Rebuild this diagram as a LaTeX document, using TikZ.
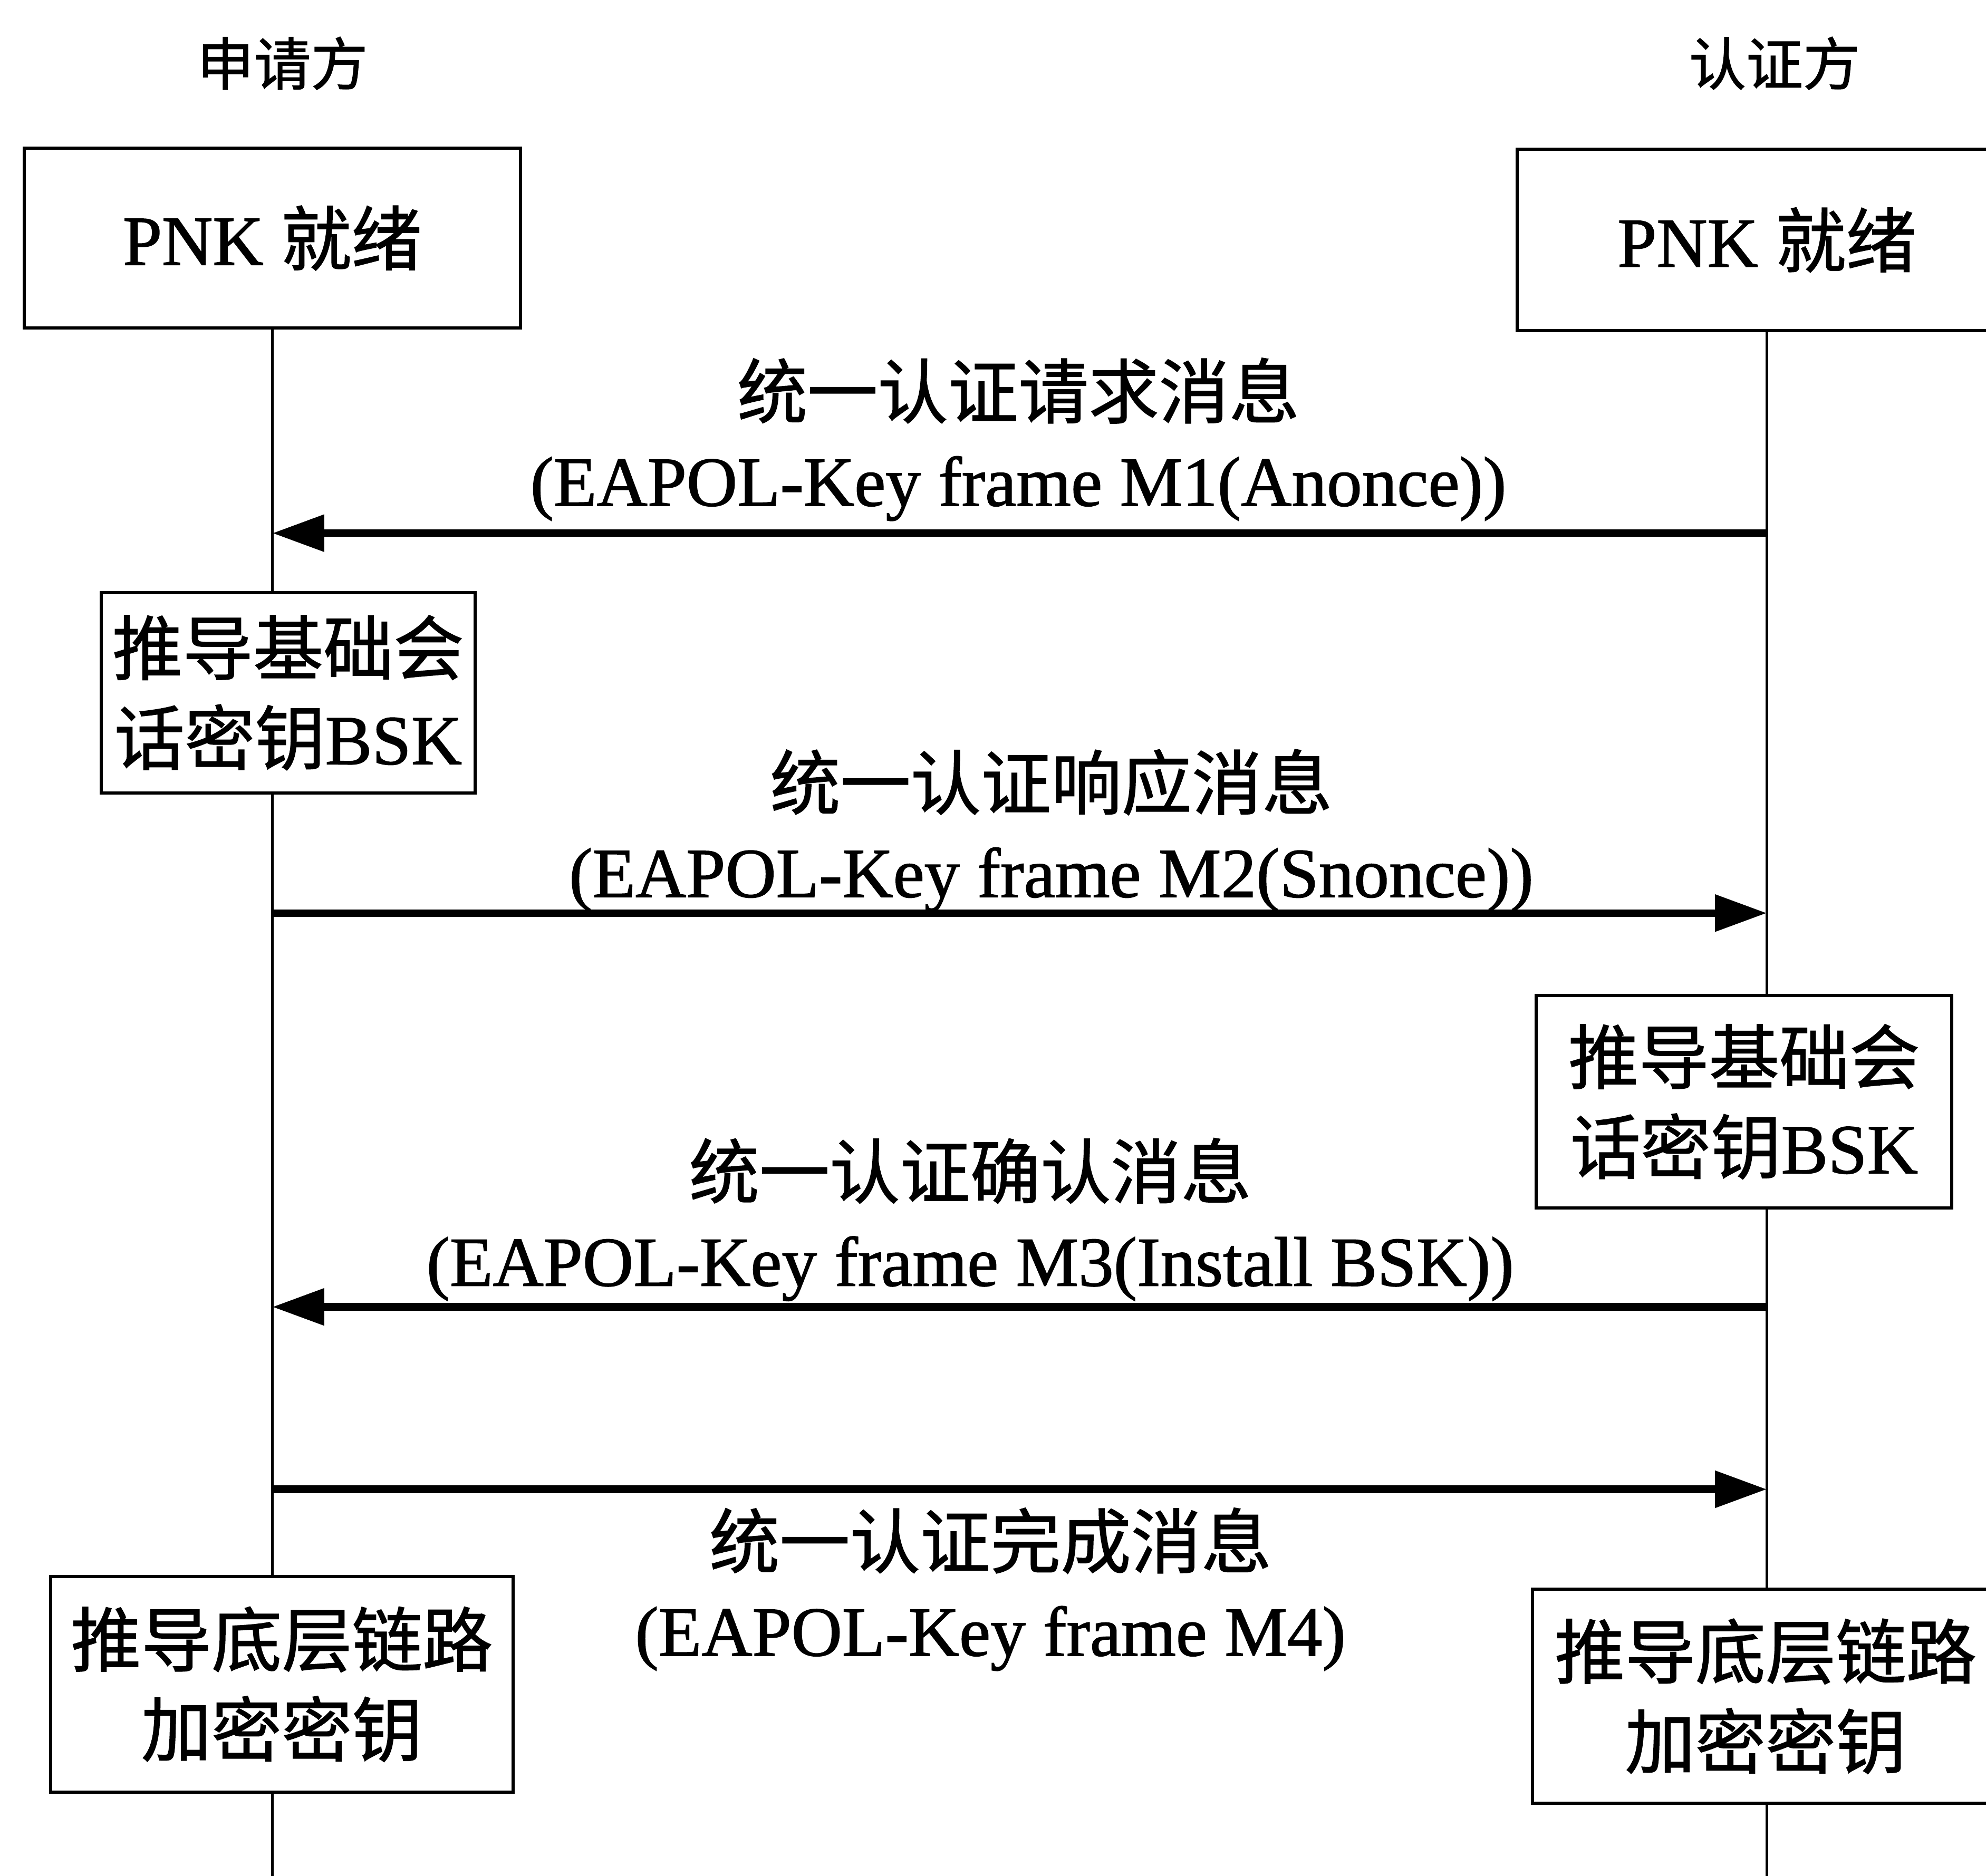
\documentclass[tikz,border=0pt]{standalone}
\usepackage{fontspec}
\setmainfont{Liberation Serif}[FakeBold=1.2]
\newfontfamily\cjk{Noto Sans CJK SC}[FakeBold=1.2]
\usetikzlibrary{arrows.meta}
\begin{document}
\begin{tikzpicture}[x=1pt,y=-1pt,
  box/.style={draw, line width=2.5pt, fill=white, inner sep=0pt, align=center, font=\fontsize{55.5}{71}\selectfont},
  lbl/.style={inner sep=0pt, align=center, font=\fontsize{55.5}{69.5}\selectfont},
  head/.style={inner sep=0pt, font=\fontsize{45}{50}\selectfont\cjk},
  life/.style={line width=2pt},
  msg/.style={line width=6pt, -{Triangle[length=41pt,width=28pt]}}]
\useasboundingbox (0,0) rectangle (1568,1481);
% headers
\node[head] (hA) at (223,50) {申请方};
\node[head] (hB) at (1401,50) {认证方};
% top boxes
\node[box, minimum width=392pt, minimum height=142pt] (A0) at (215,188) {PNK {\cjk 就绪}};
\node[box, minimum width=394pt, minimum height=143pt] (B0) at (1395,189.5) {PNK {\cjk 就绪}};
% lifelines
\coordinate (Aend) at (215,1495);
\coordinate (Bend) at (1395,1495);
\draw[life] (A0.south) -- (Aend);
\draw[life] (B0.south) -- (Bend);
% processing boxes
\node[box, minimum width=295pt, minimum height=158pt] (A1) at (227.5,547) {{\cjk 推导基础会}\\{\cjk 话密钥}BSK};
\node[box, minimum width=328pt, minimum height=168pt] (B1) at (1377,870) {{\cjk 推导基础会}\\{\cjk 话密钥}BSK};
\node[box, minimum width=365pt, minimum height=170pt] (A2) at (222.5,1330) {{\cjk 推导底层链路}\\{\cjk 加密密钥}};
\node[box, minimum width=368pt, minimum height=169pt] (B2) at (1394,1339.5) {{\cjk 推导底层链路}\\{\cjk 加密密钥}};
% message anchor points on lifelines
\coordinate (m1R) at (1395,421);  \coordinate (m1L) at (215,421);
\coordinate (m2L) at (215,721);   \coordinate (m2R) at (1395,721);
\coordinate (m3R) at (1395,1032); \coordinate (m3L) at (215,1032);
\coordinate (m4L) at (215,1176);  \coordinate (m4R) at (1395,1176);
\draw[msg] (m1R) -- (m1L);
\draw[msg] (m2L) -- (m2R);
\draw[msg] (m3R) -- (m3L);
\draw[msg] (m4L) -- (m4R);
% labels
\node[lbl] (t1) at (804,347) {{\cjk 统一认证请求消息}\\(EAPOL-Key frame M1(Anonce))};
\node[lbl] (t2) at (830,656) {{\cjk 统一认证响应消息}\\(EAPOL-Key frame M2(Snonce))};
\node[lbl] (t3) at (766,963) {{\cjk 统一认证确认消息}\\(EAPOL-Key frame M3(Install BSK))};
\node[lbl] (t4) at (782,1255) {{\cjk 统一认证完成消息}\\(EAPOL-Key frame M4)};
\end{tikzpicture}
\end{document}
